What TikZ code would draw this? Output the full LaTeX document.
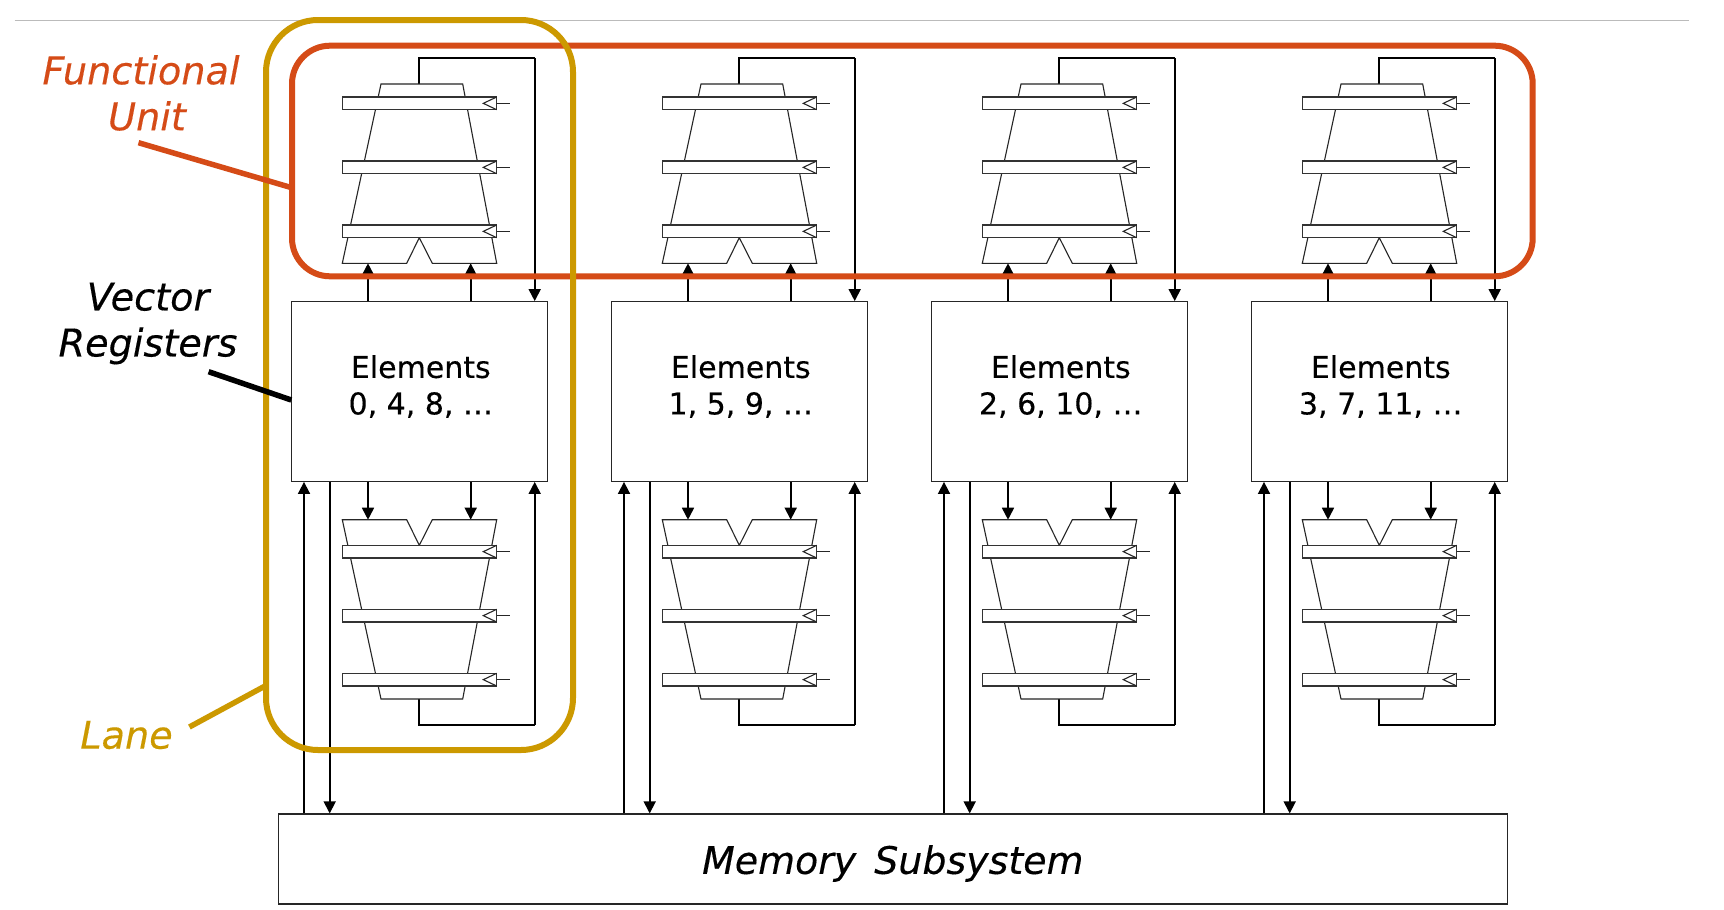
\documentclass[tikz,border=0pt]{standalone}
\usepackage{fontspec}
\setsansfont{DejaVu Sans}[ItalicFeatures={FakeBold=0.3},UprightFeatures={FakeBold=0.3}]
\usetikzlibrary{arrows.meta}
\definecolor{fured}{HTML}{D54B17}
\definecolor{lanegold}{HTML}{CC9900}
\definecolor{rulegray}{HTML}{BBBBBB}
\tikzset{
  x=1pt,y=-1pt,
  box/.style={draw=black!85,line width=1.2pt,fill=white,inner sep=0pt},
  boxtext/.style={inner sep=0pt,font=\sffamily\fontsize{30}{36.5}\selectfont,align=center},
  wire/.style={draw=black,line width=1.7pt},
  arrowwire/.style={wire,-{Triangle[width=12pt,length=12pt]},shorten >=0pt},
  thinline/.style={draw=black!85,line width=1.1pt,line join=miter},
  bar/.style={draw=black!80,line width=1.1pt,fill=white},
  outline/.style={line width=6pt,rounded corners=#1,draw},
  callout/.style={font=\sffamily\itshape\fontsize{38.2}{46}\selectfont,align=center,inner sep=0pt},
  leader/.style={line width=5.5pt},
}
% one functional unit, drawn for the upper position; the lower one mirrors it
\newcommand{\funit}{%
  \draw[thinline] (381,84) -- (462.7,84) -- (496.7,263.3) -- (432.3,263.3) -- (419.3,237.7)
    -- (406.7,263.3) -- (342.3,263.3) -- cycle;
  \foreach \yy in {97,161,225}{
    \draw[bar] (342.3,\yy) rectangle (496.7,\yy+12.7);
    \draw[thinline] (496.7,\yy) -- (483.3,\yy+6.35) -- (496.7,\yy+12.7);
    \draw[thinline] (496.7,\yy+6.35) -- (509.7,\yy+6.35);
  }
}
\begin{document}
\begin{tikzpicture}
\useasboundingbox (0,0) rectangle (1724,910);
\fill[white] (0,0) rectangle (1724,910);
\coordinate (ruleL) at (14.5,20.7);
\coordinate (ruleR) at (1688.7,20.7);
\draw[rulegray,line width=1.4pt] (ruleL) -- (ruleR);
\node[box,minimum width=1229pt,minimum height=90pt] (mem) at (892.8,859) {};
\node[inner sep=0pt,font=\sffamily\itshape\fontsize{37.9}{44}\selectfont] (memlabel) at (892.8,863.4) {Memory\hspace{6pt} Subsystem};
\foreach \i/\nums in {0/{0, 4, 8, …},1/{1, 5, 9, …},2/{2, 6, 10, …},3/{3, 7, 11, …}}{
  \begin{scope}[xshift=320*\i pt]
    \node[box,minimum width=256pt,minimum height=179.6pt] (el\i) at (419.3,391.5) {};
    \node[boxtext] (elt\i) at (420.8,386.5) {Elements\\\nums};
    % upper functional unit
    \coordinate (uo\i) at (419.3,84);
    \coordinate (ua\i) at (368,263.3);
    \coordinate (ub\i) at (470.7,263.3);
    \coordinate (ur\i) at (534.7,58.3);
    % lower functional unit
    \coordinate (lo\i) at (419.3,699);
    \coordinate (la\i) at (368,519.7);
    \coordinate (lb\i) at (470.7,519.7);
    \coordinate (lr\i) at (534.7,724.7);
    % memory links
    \coordinate (mu\i) at (304,600);
    \coordinate (md\i) at (329.7,600);
    \draw[wire] (uo\i) |- (ur\i);
    \draw[arrowwire] (ur\i) -- (ur\i |- el\i.north);
    \draw[arrowwire] (ua\i |- el\i.north) -- (ua\i);
    \draw[arrowwire] (ub\i |- el\i.north) -- (ub\i);
    \draw[wire] (lo\i) |- (lr\i);
    \draw[arrowwire] (lr\i) -- (lr\i |- el\i.south);
    \draw[arrowwire] (la\i |- el\i.south) -- (la\i);
    \draw[arrowwire] (lb\i |- el\i.south) -- (lb\i);
    \draw[arrowwire] (mu\i |- mem.north) -- (mu\i |- el\i.south);
    \draw[arrowwire] (md\i |- el\i.south) -- (md\i |- mem.north);
    \funit
    \begin{scope}[yshift=-783pt,yscale=-1]
      \funit
    \end{scope}
  \end{scope}
}
% red frame
\draw[fured,outline=38pt] (292,45.7) rectangle (1532.7,276.3);
% gold frame and callout
\coordinate (goldA) at (189.4,727);
\coordinate (goldB) at (266,685.5);
\draw[lanegold,outline=52pt] (266,20) rectangle (573,750);
\draw[lanegold,leader] (goldA) -- (goldB);
% red callout, on top of the gold frame
\coordinate (redA) at (138.5,142.7);
\coordinate (redB) at (291,187.5);
\draw[fured,leader] (redA) -- (redB);
% black callout
\coordinate (blkA) at (208.6,371.7);
\coordinate (blkB) at (291.3,400);
\draw[black,leader] (blkA) -- (blkB);
\node[callout,text=fured] (lblfu) at (141,93) {Functional\\\hspace*{12pt}Unit};
\node[callout,text=black] (lblvr) at (148,323.5) {Vector\\Registers};
\node[callout,text=lanegold] (lbllane) at (126.5,735) {Lane};
\end{tikzpicture}
\end{document}
